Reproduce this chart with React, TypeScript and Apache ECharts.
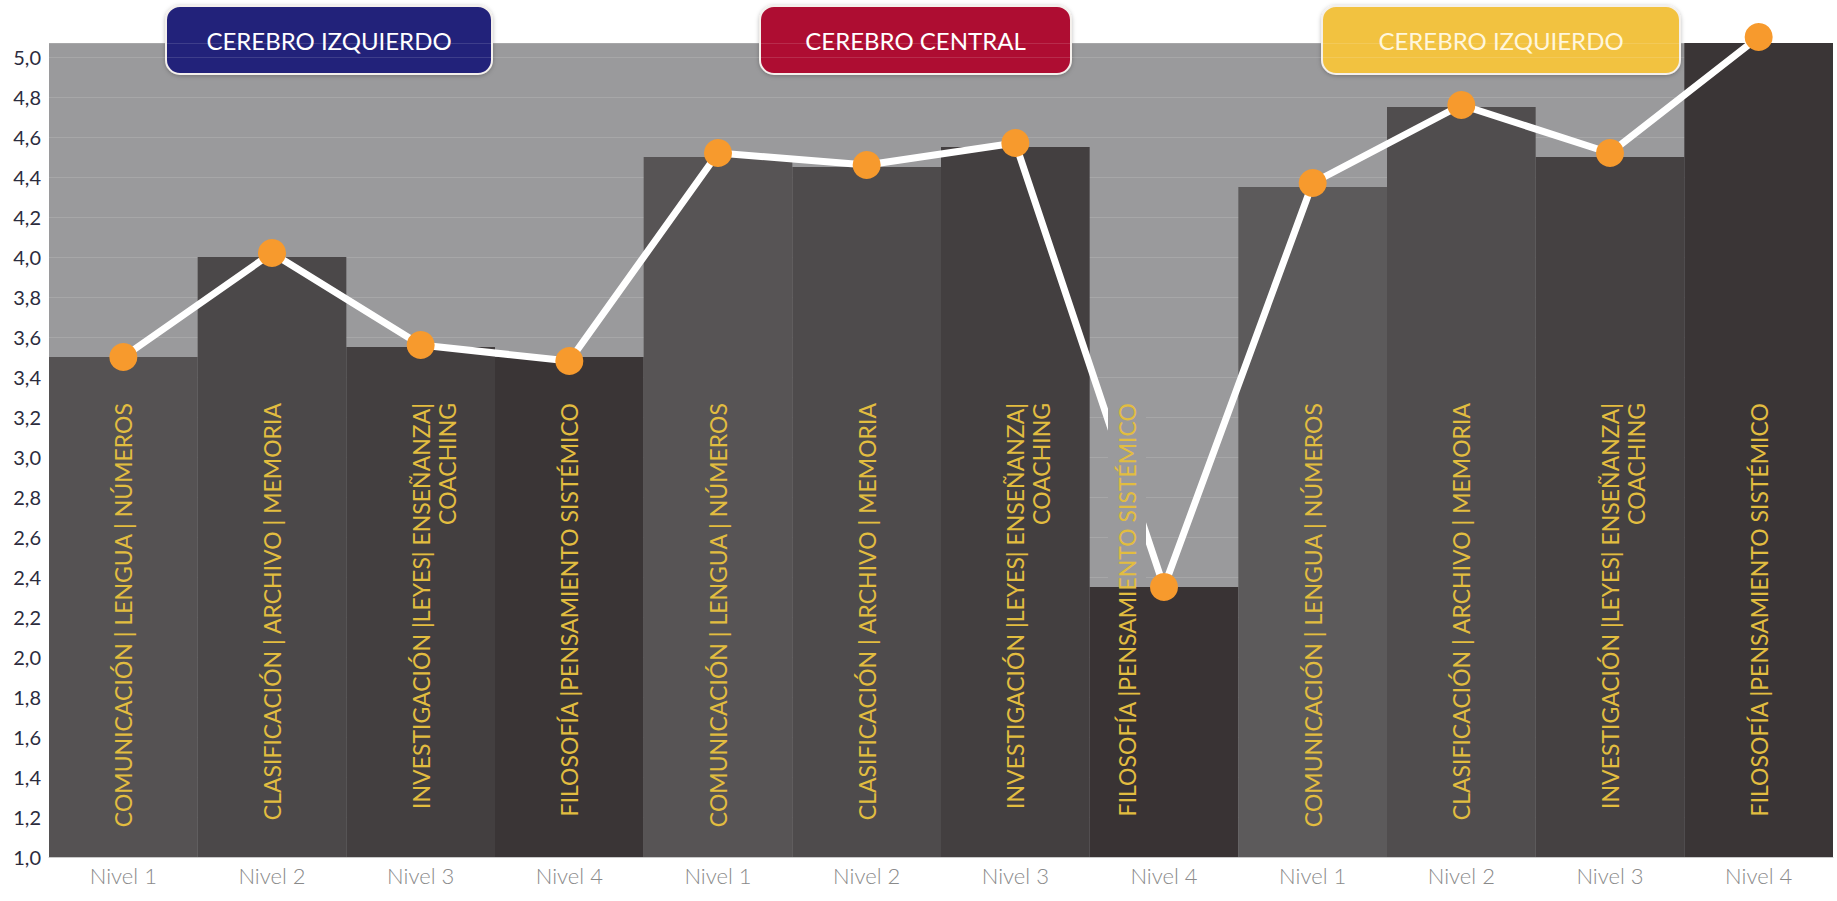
import React, { useEffect, useRef } from "react";
import * as echarts from "echarts";

const categories = [
  "Nivel 1", "Nivel 2", "Nivel 3", "Nivel 4",
  "Nivel 1", "Nivel 2", "Nivel 3", "Nivel 4",
  "Nivel 1", "Nivel 2", "Nivel 3", "Nivel 4",
];
const barValues = [3.5, 4.0, 3.55, 3.5, 4.5, 4.45, 4.55, 2.35, 4.35, 4.75, 4.5, 5.07];
const lineValues = [3.5, 4.02, 3.56, 3.48, 4.52, 4.46, 4.57, 2.35, 4.37, 4.76, 4.52, 5.1];
const barColors = [
  "#555253", "#4b4849", "#433f40", "#3a3536",
  "#575455", "#4e4b4c", "#433f40", "#393334",
  "#5c5a5b", "#504d4e", "#454142", "#3a3536",
];
const barLabels = [
  "COMUNICACIÓN | LENGUA | NÚMEROS",
  "CLASIFICACIÓN | ARCHIVO | MEMORIA",
  "INVESTIGACIÓN |LEYES| ENSEÑANZA|\nCOACHING",
  "FILOSOFÍA |PENSAMIENTO SISTÉMICO",
  "COMUNICACIÓN | LENGUA | NÚMEROS",
  "CLASIFICACIÓN | ARCHIVO | MEMORIA",
  "INVESTIGACIÓN |LEYES| ENSEÑANZA|\nCOACHING",
  "FILOSOFÍA |PENSAMIENTO SISTÉMICO",
  "COMUNICACIÓN | LENGUA | NÚMEROS",
  "CLASIFICACIÓN | ARCHIVO | MEMORIA",
  "INVESTIGACIÓN |LEYES| ENSEÑANZA|\nCOACHING",
  "FILOSOFÍA |PENSAMIENTO SISTÉMICO",
];
const groupTitles = ["CEREBRO IZQUIERDO", "CEREBRO CENTRAL", "CEREBRO IZQUIERDO"];
const groupColors = ["#22217a", "#ae0a33", "#f2c23f"];
const groupTextColors = ["#ffffff", "#ffffff", "#fff6dc"];

const Y_MIN = 1.0;
const Y_MAX = 5.07;
const Y_STEP = 0.2;
const LABEL_Y = 3.27;
const LABEL_LH = 26;
const GRID_BG = "#9a9a9c";
// the label of this bar is moved left and the line is broken around it
const SHIFTED_LABEL = 7;
const SHIFT_PX = -37;
const GAP_HALF = 19;

const boxes = [
  { x: 166, w: 326 },
  { x: 760, w: 311 },
  { x: 1322, w: 358 },
];

export default function App() {
  const ref = useRef<HTMLDivElement>(null);
  useEffect(() => {
    if (!ref.current) return;
    const chart = echarts.init(ref.current, undefined, { renderer: "svg" });
    const option: any = {
      animation: false,
      backgroundColor: "#ffffff",
      grid: {
        left: 49,
        right: 4,
        top: 43,
        bottom: 44,
        show: true,
        backgroundColor: GRID_BG,
        borderWidth: 0,
      },
      xAxis: {
        type: "category",
        data: categories,
        axisLine: { show: true, lineStyle: { color: "#c9c9c9", width: 1 } },
        axisTick: { show: false },
        axisLabel: {
          color: "#8a8a8a",
          fontFamily: "Lato",
          fontWeight: 300,
          fontSize: 22,
          margin: 7,
        },
      },
      yAxis: {
        type: "value",
        min: Y_MIN,
        max: Y_MAX,
        interval: Y_STEP,
        axisLine: { show: false },
        axisTick: { show: false },
        splitLine: { show: true, lineStyle: { color: "rgba(255,255,255,0.13)", width: 1 } },
        axisLabel: {
          color: "#2c2c3e",
          fontFamily: "Lato",
          fontSize: 20,
          margin: 8,
          formatter: (v: number) => {
            const k = Math.round(v / Y_STEP);
            if (Math.abs(v - k * Y_STEP) > 1e-6) return "";
            return v.toFixed(1).replace(".", ",");
          },
        },
      },
      series: [
        {
          type: "bar",
          data: barValues.map((v, i) => ({ value: v, itemStyle: { color: barColors[i] } })),
          barWidth: "100%",
          barCategoryGap: 0,
          z: 2,
        },
        {
          type: "line",
          data: lineValues,
          clip: false,
          z: 3,
          lineStyle: { color: "#ffffff", width: 7 },
          symbol: "none",
        },
        {
          type: "custom",
          data: categories.map((_, i) => [i, LABEL_Y, barValues[i]]),
          z: 4,
          renderItem: (params: any, api: any) => {
            const i = params.dataIndex;
            const pt = api.coord([api.value(0), api.value(1)]);
            const shift = i === SHIFTED_LABEL ? SHIFT_PX : 0;
            const cx = pt[0] + shift;
            const text = {
              type: "text",
              x: cx - LABEL_LH / 2,
              y: pt[1],
              rotation: Math.PI / 2,
              style: {
                text: barLabels[i],
                fill: "#e2bd40",
                font: "23px Lato",
                align: "right",
                verticalAlign: "top",
                lineHeight: LABEL_LH,
              },
            };
            if (i !== SHIFTED_LABEL) return text;
            const top = api.coord([api.value(0), api.value(2)]);
            return {
              type: "group",
              children: [
                {
                  type: "rect",
                  shape: { x: cx - GAP_HALF, y: pt[1] - 6, width: GAP_HALF * 2, height: top[1] - pt[1] + 6 },
                  style: { fill: GRID_BG },
                },
                text,
              ],
            };
          },
        },
        {
          type: "scatter",
          data: lineValues,
          clip: false,
          z: 6,
          itemStyle: { color: "#f79a2d", opacity: 1 },
          symbol: "circle",
          symbolSize: 28,
        },
      ],
      graphic: boxes.map((b, i) => ({
        type: "group",
        z: 10,
        children: [
          {
            type: "rect",
            shape: { x: b.x, y: 6, width: b.w, height: 68, r: 14 },
            style: {
              fill: groupColors[i],
              stroke: "#f4f0ec",
              lineWidth: 2,
              shadowColor: "rgba(0,0,0,0.25)",
              shadowBlur: 4,
              shadowOffsetY: 1,
            },
          },
          {
            type: "text",
            x: b.x + b.w / 2,
            y: 40,
            style: {
              text: groupTitles[i],
              fill: groupTextColors[i],
              font: "24px Lato",
              align: "center",
              verticalAlign: "middle",
            },
          },
        ],
      })),
    };
    chart.setOption(option);
    return () => chart.dispose();
  }, []);
  return (
    <div
      ref={ref}
      style={{ position: "fixed", left: 0, top: 0, width: 1837, height: 901, background: "#fff" }}
    />
  );
}
